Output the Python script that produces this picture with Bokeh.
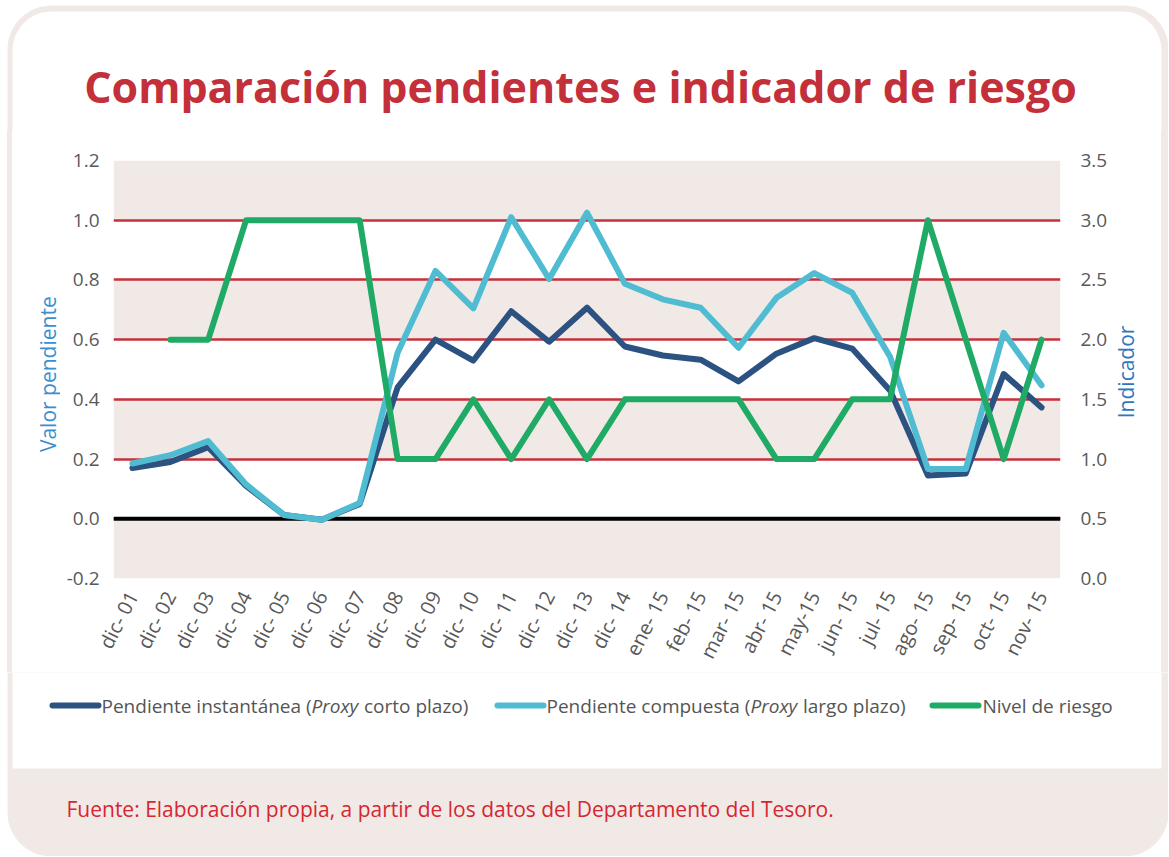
import math
import numpy as np
from bokeh.plotting import figure
from bokeh.layouts import column, row
from bokeh.models import (Range1d, LinearAxis, FixedTicker, NumeralTickFormatter,
                          BoxAnnotation, Span, ColumnDataSource)
from bokeh.core.properties import value
from bokeh.embed import file_html
from bokeh.resources import INLINE

# ---------------- data ----------------
categories = ["dic- 01", "dic- 02", "dic- 03", "dic- 04", "dic- 05", "dic- 06", "dic- 07",
              "dic- 08", "dic- 09", "dic- 10", "dic- 11", "dic- 12", "dic- 13", "dic- 14",
              "ene- 15", "feb- 15", "mar- 15", "abr- 15", "may-15", "jun- 15", "jul- 15",
              "ago- 15", "sep- 15", "oct- 15", "nov- 15"]
pendiente_instantanea = [0.17, 0.19, 0.24, 0.11, 0.013, -0.003, 0.05,
                         0.44, 0.60, 0.53, 0.695, 0.593, 0.707, 0.577,
                         0.547, 0.533, 0.46, 0.553, 0.605, 0.57, 0.43,
                         0.145, 0.152, 0.485, 0.373]
pendiente_compuesta = [0.185, 0.213, 0.26, 0.115, 0.013, -0.003, 0.053,
                       0.556, 0.83, 0.705, 1.01, 0.803, 1.025, 0.787,
                       0.735, 0.707, 0.573, 0.74, 0.823, 0.757, 0.543,
                       0.167, 0.167, 0.623, 0.447]
nivel_riesgo = [None, 2.0, 2.0, 3.0, 3.0, 3.0, 3.0,
                1.0, 1.0, 1.5, 1.0, 1.5, 1.0, 1.5,
                1.5, 1.5, 1.5, 1.0, 1.0, 1.5, 1.5,
                3.0, 2.0, 1.0, 2.0]
left_ticks = [-0.2, 0.0, 0.2, 0.4, 0.6, 0.8, 1.0, 1.2]
right_ticks = [0.0, 0.5, 1.0, 1.5, 2.0, 2.5, 3.0, 3.5]
band_edges = [(-0.2, 0.0), (0.2, 0.4), (0.6, 0.8), (1.0, 1.2)]

title_text = "Comparación pendientes e indicador de riesgo"
y_label_left = "Valor pendiente"
y_label_right = "Indicador"
legend_names = [
    [("Pendiente instantánea (", "normal"), ("Proxy", "italic"), ("corto plazo)", "normal")],
    [("Pendiente compuesta (", "normal"), ("Proxy", "italic"), ("largo plazo)", "normal")],
    [("Nivel de riesgo", "normal")],
]
source_text = "Fuente: Elaboración propia, a partir de los datos del Departamento del Tesoro."

# ---------------- style ----------------
DARK = "#2b5280"
LIGHT = "#4fbcd2"
GREEN = "#1fab66"
RED = "#c7313b"
PINK = "#f1e9e6"
TICK = "#595959"
FONT = "Open Sans"

# page geometry (page pixels, y downwards)
TOT_W = 1168
HDR_H = 130            # header: y 0..130
MID_TOP, MID_BOT = 130, 672
FOOT_BOT = 856
LSTRIP_W, RSTRIP_X = 60, 1110
FL, FR, FT, FB = 113, 1061, 160, 580


def rrect(x0, y0, x1, y1, r_tl, r_tr, r_br, r_bl, k=18):
    xs, ys = [], []
    corners = [((x0 + r_tl, y0 + r_tl), r_tl, math.pi),
               ((x1 - r_tr, y0 + r_tr), r_tr, 1.5 * math.pi),
               ((x1 - r_br, y1 - r_br), r_br, 0.0),
               ((x0 + r_bl, y1 - r_bl), r_bl, 0.5 * math.pi)]
    for (cx, cy), r, a0 in corners:
        for j in range(k + 1):
            a = a0 + 0.5 * math.pi * j / k
            xs.append(cx + r * math.cos(a))
            ys.append(cy + r * math.sin(a))
    return xs, ys


OUTER = rrect(7, 5, 1168, 856, 44, 44, 44, 44)
INNER = rrect(12, 11, 1161, 768, 39, 39, 0, 0)


def blank_fig(w, h, xr, yr):
    f = figure(width=w, height=h, x_range=xr, y_range=yr,
               x_axis_type=None, y_axis_type=None,
               output_backend="svg", toolbar_location=None,
               min_border_left=0, min_border_right=0, min_border_top=0, min_border_bottom=0)
    f.outline_line_color = None
    f.title.visible = False
    return f


def deco_fig(x0, y0, x1, y1):
    f = blank_fig(x1 - x0, y1 - y0, Range1d(x0, x1), Range1d(y1, y0))
    f.border_fill_color = "white"
    f.background_fill_color = "white"
    f.patch(OUTER[0], OUTER[1], fill_color=PINK, line_color=None)
    f.patch(INNER[0], INNER[1], fill_color="white", line_color=None)
    return f


def ptext(f, x, y, txt, size, color, align="left", baseline="middle", style="normal", angle=0.0):
    f.text(x=[x], y=[y], text=[txt], text_font=value(FONT), text_font_size=value(size),
           text_font_style=value(style), text_color=color, text_align=value(align),
           text_baseline=value(baseline), angle=angle)


# ---------------- header ----------------
hdr = deco_fig(0, 0, TOT_W, HDR_H)
ptext(hdr, 580, 86, title_text, "43px", "#c4303a", align="center", baseline="middle",
      style="bold")

# ---------------- side strips (their frames align with the chart frame: y 160..580) ----------------
lstrip = blank_fig(LSTRIP_W, MID_BOT - MID_TOP, Range1d(0, LSTRIP_W), Range1d(FB, FT))
lstrip.border_fill_color = None
lstrip.background_fill_color = None
ptext(lstrip, 47, 453, y_label_left, "21px", "#3a8fd0", align="left", angle=math.pi / 2)

rstrip = blank_fig(TOT_W - RSTRIP_X, MID_BOT - MID_TOP, Range1d(RSTRIP_X, TOT_W), Range1d(FB, FT))
rstrip.border_fill_color = None
rstrip.background_fill_color = None
ptext(rstrip, 1125, 419, y_label_right, "21px", "#2f77bd", align="left", angle=math.pi / 2)

# ---------------- main chart ----------------
n = len(categories)
xpos = [i + 0.5 for i in range(n)]  # category centres on a numeric axis

p = figure(width=RSTRIP_X - LSTRIP_W, height=MID_BOT - MID_TOP,
           x_range=Range1d(0, n), y_range=Range1d(-0.2, 1.2),
           output_backend="svg", toolbar_location=None,
           min_border_left=FL - LSTRIP_W, min_border_right=RSTRIP_X - FR,
           min_border_top=FT - MID_TOP, min_border_bottom=MID_BOT - FB)
p.title.visible = False
p.outline_line_color = None
p.background_fill_color = "white"
p.border_fill_color = "white"
p.extra_y_ranges = {"right": Range1d(0, 3.5)}

for lo, hi in band_edges:
    p.add_layout(BoxAnnotation(bottom=lo, top=hi, fill_color=PINK, fill_alpha=1.0,
                               line_color=None, level="image"))

p.xgrid.visible = False
p.ygrid.ticker = FixedTicker(ticks=left_ticks)
p.ygrid.grid_line_color = RED
p.ygrid.grid_line_width = 2.5
p.add_layout(Span(location=0, dimension="width", line_color="black", line_width=4, level="underlay"))

xa = p.xaxis[0]
xa.ticker = FixedTicker(ticks=xpos)
xa.major_label_overrides = {x: c for x, c in zip(xpos, categories)}
xa.major_label_orientation = 1.1
xa.axis_line_color = None
xa.major_tick_line_color = None
xa.minor_tick_line_color = None
xa.major_label_text_font = FONT
xa.major_label_text_font_size = "20px"
xa.major_label_text_color = TICK
xa.major_label_standoff = 8

ya = p.yaxis[0]
ya.ticker = FixedTicker(ticks=left_ticks)
ya.formatter = NumeralTickFormatter(format="0.0")
ya.axis_line_color = None
ya.major_tick_line_color = None
ya.minor_tick_line_color = None
ya.major_label_text_font = FONT
ya.major_label_text_font_size = "19px"
ya.major_label_text_color = TICK
ya.major_label_standoff = 8

ra = LinearAxis(y_range_name="right", ticker=FixedTicker(ticks=right_ticks),
                formatter=NumeralTickFormatter(format="0.0"))
ra.axis_line_color = None
ra.major_tick_line_color = None
ra.minor_tick_line_color = None
ra.major_label_text_font = FONT
ra.major_label_text_font_size = "19px"
ra.major_label_text_color = TICK
ra.major_label_standoff = 14
p.add_layout(ra, "right")

src = ColumnDataSource(dict(
    x=xpos,
    inst=np.array(pendiente_instantanea, dtype=float),
    comp=np.array(pendiente_compuesta, dtype=float),
    riesgo=np.array([np.nan if v is None else v for v in nivel_riesgo], dtype=float),
))
p.line("x", "inst", source=src, line_color=DARK, line_width=6, line_join="round", line_cap="round")
p.line("x", "comp", source=src, line_color=LIGHT, line_width=6, line_join="round", line_cap="round")
p.line("x", "riesgo", source=src, y_range_name="right", line_color=GREEN, line_width=6,
       line_join="round", line_cap="round")

# ---------------- footer (legend + source) ----------------
foot = deco_fig(0, MID_BOT, TOT_W, FOOT_BOT)
LEG_Y = 705
leg_colors = [DARK, LIGHT, GREEN]
leg_sample_x = [(52, 98), (497, 543), (932, 978)]
leg_text_x = [[101, 311, 363.5], [546, 750, 802.5], [982]]
for color, (sx0, sx1), pieces, xs in zip(leg_colors, leg_sample_x, legend_names, leg_text_x):
    foot.segment(x0=[sx0], y0=[LEG_Y], x1=[sx1], y1=[LEG_Y], line_color=color, line_width=6,
                 line_cap="round")
    for (txt, style), tx in zip(pieces, xs):
        ptext(foot, tx, LEG_Y, txt, "19px", "#555555", style=style)
ptext(foot, 66, 808, source_text, "21px", "#d62631")

# pink side edges of the rounded frame behind the (transparent) side strips
ring_sides = ("linear-gradient(to right, #ffffff 0px, #ffffff 7px, %s 7px, %s 12px, "
              "#ffffff 12px, #ffffff 1161px, %s 1161px, %s 1168px)" % (PINK, PINK, PINK, PINK))
middle = row(lstrip, p, rstrip, styles={"background": ring_sides})

layout = column(hdr, middle, foot)
open("out.html", "w").write(file_html(layout, INLINE))
